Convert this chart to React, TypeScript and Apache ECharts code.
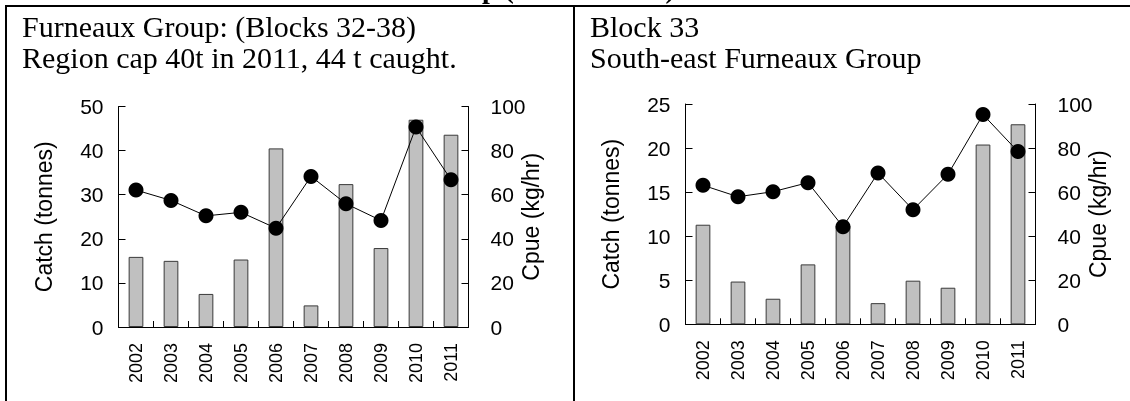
import React, { useEffect, useRef } from "react";
import * as echarts from "echarts";

const years = ["2002", "2003", "2004", "2005", "2006", "2007", "2008", "2009", "2010", "2011"];
const furneauxCatch = [15.9, 15.0, 7.5, 15.3, 40.5, 4.9, 32.4, 17.9, 47.0, 43.6];
const furneauxCpue = [62.1, 57.4, 50.4, 52.0, 44.8, 68.3, 55.9, 48.3, 90.7, 66.8];
const block33Catch = [11.3, 4.85, 2.9, 6.8, 11.2, 2.4, 4.95, 4.15, 20.4, 22.7];
const block33Cpue = [63.1, 57.9, 60.2, 64.3, 44.3, 68.7, 52.0, 68.1, 95.2, 78.4];

const pageTitle = "Furneaux Group (Blocks 32-38)";
const leftHeader = ["Furneaux Group: (Blocks 32-38)", "Region cap 40t in 2011, 44 t caught."];
const rightHeader = ["Block 33", "South-east Furneaux Group"];

const SANS = "'Liberation Sans', Arial, sans-serif";
const SERIF = "'Liberation Serif', 'Times New Roman', serif";

export default function App() {
  const ref = useRef<HTMLDivElement>(null);
  useEffect(() => {
    document.body.style.margin = "0";
    const chart = echarts.init(ref.current!, null, { renderer: "svg" });

    const xAxisBase = (gridIndex: number) => ({
      type: "category",
      gridIndex,
      data: years,
      boundaryGap: true,
      axisLine: { show: true, lineStyle: { color: "#000", width: 1 } },
      axisTick: { show: true, inside: true, length: 6, alignWithLabel: false, lineStyle: { color: "#000" } },
      axisLabel: { rotate: 90, fontSize: 18, color: "#000", fontFamily: SANS, margin: 16 },
      splitLine: { show: false },
    });

    const yAxisBase = (gridIndex: number, position: string, max: number, interval: number, name: string) => ({
      type: "value",
      gridIndex,
      position,
      min: 0,
      max,
      interval,
      name,
      nameLocation: "middle",
      nameRotate: 90,
      nameMoveOverlap: false,
      nameGap: position === "left" ? 63 : 51,
      nameTextStyle: { fontSize: 23, color: "#000", fontFamily: SANS },
      axisLine: { show: true, lineStyle: { color: "#000", width: 1 } },
      axisTick: { show: true, inside: true, length: 7, lineStyle: { color: "#000" } },
      axisLabel: { fontSize: 21, color: "#000", fontFamily: SANS, margin: position === "left" ? 15 : 22 },
      splitLine: { show: false },
    });

    const barStyle = { color: "#c0c0c0", borderColor: "#3a3a3a", borderWidth: 1 };
    const lineStyle = { color: "#000", width: 1 };
    const HF = 30;
    // baseline y -> middle y for Liberation Serif (em-box centre ~0.3375em above baseline)
    const header = (text: string, x: number, baseline: number) => ({
      type: "text", x, y: baseline - 0.3375 * HF,
      style: { text, font: `${HF}px ${SERIF}`, fill: "#000", verticalAlign: "middle", align: "left" },
    });

    chart.setOption({
      animation: false,
      grid: [
        { left: 118.5, top: 106.5, width: 350, height: 220.5, containLabel: false, outerBoundsMode: "none" },
        { left: 685.5, top: 104, width: 350, height: 220.3, containLabel: false, outerBoundsMode: "none" },
      ],
      xAxis: [xAxisBase(0), xAxisBase(1)],
      yAxis: [
        yAxisBase(0, "left", 50, 10, "Catch (tonnes)"),
        yAxisBase(0, "right", 100, 20, "Cpue (kg/hr)"),
        yAxisBase(1, "left", 25, 5, "Catch (tonnes)"),
        yAxisBase(1, "right", 100, 20, "Cpue (kg/hr)"),
      ],
      series: [
        { type: "bar", xAxisIndex: 0, yAxisIndex: 0, data: furneauxCatch, barWidth: "42%", itemStyle: barStyle },
        {
          type: "line", xAxisIndex: 0, yAxisIndex: 1, data: furneauxCpue, symbol: "circle", symbolSize: 15,
          itemStyle: { color: "#000" }, lineStyle, z: 5,
        },
        { type: "bar", xAxisIndex: 1, yAxisIndex: 2, data: block33Catch, barWidth: "42%", itemStyle: barStyle },
        {
          type: "line", xAxisIndex: 1, yAxisIndex: 3, data: block33Cpue, symbol: "circle", symbolSize: 15,
          itemStyle: { color: "#000" }, lineStyle, z: 5,
        },
      ],
      graphic: [
        { type: "line", shape: { x1: 5, y1: 6, x2: 1130, y2: 6 }, style: { stroke: "#000", lineWidth: 2 } },
        { type: "line", shape: { x1: 6, y1: 5, x2: 6, y2: 401 }, style: { stroke: "#000", lineWidth: 2 } },
        { type: "line", shape: { x1: 574, y1: 6, x2: 574, y2: 401 }, style: { stroke: "#000", lineWidth: 2 } },
        {
          type: "text", x: 295, y: -11.5,
          style: { text: pageTitle, font: `bold 28px ${SERIF}`, fill: "#000", verticalAlign: "middle", align: "left" },
        },
        header(leftHeader[0], 22, 36.5),
        header(leftHeader[1], 22, 68),
        header(rightHeader[0], 590, 36.5),
        header(rightHeader[1], 590, 68),
      ],
    });
    return () => chart.dispose();
  }, []);
  return <div ref={ref} style={{ position: "fixed", left: 0, top: 0, width: 1130, height: 401 }} />;
}
